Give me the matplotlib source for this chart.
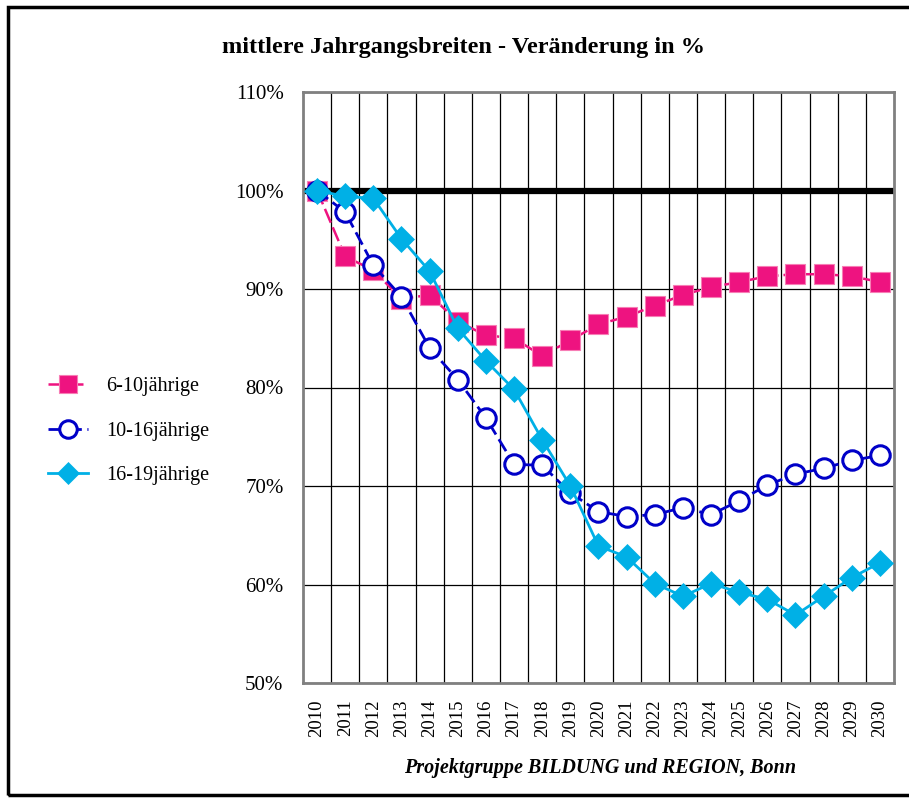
import matplotlib
matplotlib.use("Agg")
import matplotlib.pyplot as plt
import numpy as np
from matplotlib.patches import Rectangle

years = [str(y) for y in range(2010, 2031)]
s_6_10 = [100, 93.3, 91.9, 89.0, 89.4, 86.7, 85.3, 85.0, 83.2, 84.8,
          86.4, 87.2, 88.3, 89.4, 90.2, 90.7, 91.3, 91.5, 91.5, 91.3, 90.7]
s_10_16 = [100, 97.8, 92.4, 89.2, 84.0, 80.8, 76.9, 72.2, 72.1, 69.3,
           67.4, 66.9, 67.1, 67.8, 67.1, 68.5, 70.1, 71.2, 71.8, 72.6, 73.1]
s_16_19 = [100, 99.4, 99.2, 95.1, 91.8, 86.0, 82.7, 79.8, 74.7, 70.0,
           63.9, 62.8, 60.1, 58.8, 60.1, 59.2, 58.5, 56.9, 58.8, 60.7, 62.2]
series_names = ["6-10jährige", "10-16jährige", "16-19jährige"]
yticks = [50, 60, 70, 80, 90, 100, 110]
ytick_labels = [f"{v}%" for v in yticks]

title = "mittlere Jahrgangsbreiten - Veränderung in %"
footer = "Projektgruppe BILDUNG und REGION, Bonn"

plt.rcParams['font.family'] = ['Liberation Serif', 'DejaVu Serif']

W, H = 909, 798
fig = plt.figure(figsize=(W / 100, H / 100), dpi=100)

# outer frame
fig.patches.append(Rectangle((8 / W, 1 - 795 / H), (912 - 8) / W, (795 - 7) / H,
                             transform=fig.transFigure, fill=False,
                             edgecolor='black', linewidth=2.5))

ax = fig.add_axes([303 / W, 1 - 683 / H, (894 - 303) / W, (683 - 92) / H])
x = np.arange(len(years))

pink = '#EE1380'
blue = '#0000C8'
lblue = '#00B0E6'

ax.axhline(100, color='black', lw=4.5, zorder=2)

ax.plot(x, s_6_10, color=pink, lw=1.8, ls=(0, (6, 2)), marker='s', markersize=14,
        markerfacecolor=pink, markeredgecolor='#F77DB5', markeredgewidth=0.8,
        label=series_names[0], zorder=3)
ax.plot(x, s_10_16, color=blue, lw=2, ls=(0, (5, 2)), marker='o', markersize=14,
        markerfacecolor='white', markeredgecolor=blue, markeredgewidth=2.2,
        label=series_names[1], zorder=4)
ax.plot(x, s_16_19, color=lblue, lw=2, marker='D', markersize=13,
        markerfacecolor=lblue, markeredgecolor=lblue, markeredgewidth=0.5,
        label=series_names[2], zorder=5)

ax.set_xlim(-0.5, len(years) - 0.5)
ax.set_ylim(50, 110)
ax.set_xticks(x)
ax.set_xticklabels(years, rotation=90, fontsize=13.5)
ax.set_xticks(np.arange(0.5, len(years) - 1, 1), minor=True)
ax.set_yticks(yticks)
ax.set_yticklabels(ytick_labels, fontsize=15)
ax.tick_params(axis='both', which='both', length=0)
ax.tick_params(axis='x', pad=12)
ax.tick_params(axis='y', pad=14)
ax.grid(axis='x', which='minor', color='black', lw=0.9, zorder=0)
ax.grid(axis='y', which='major', color='black', lw=0.9, zorder=0)
ax.set_axisbelow(True)
for s in ax.spines.values():
    s.set_color('#808080')
    s.set_linewidth(2)

fig.text(464 / W, 1 - 48 / H, title, ha='center', va='center',
         fontsize=17.5, fontweight='bold')
fig.text(600 / W, 1 - 768 / H, footer, ha='center', va='center',
         fontsize=14.5, fontweight='bold', style='italic')

handles, labels = ax.get_legend_handles_labels()
leg = fig.legend(handles, labels, loc='center left',
                 bbox_to_anchor=(30 / W, 1 - 431 / H), frameon=False,
                 fontsize=14.5, handlelength=2.0, labelspacing=1.25,
                 handletextpad=0.9, markerscale=0.9)

fig.savefig("out.png", dpi=100)
